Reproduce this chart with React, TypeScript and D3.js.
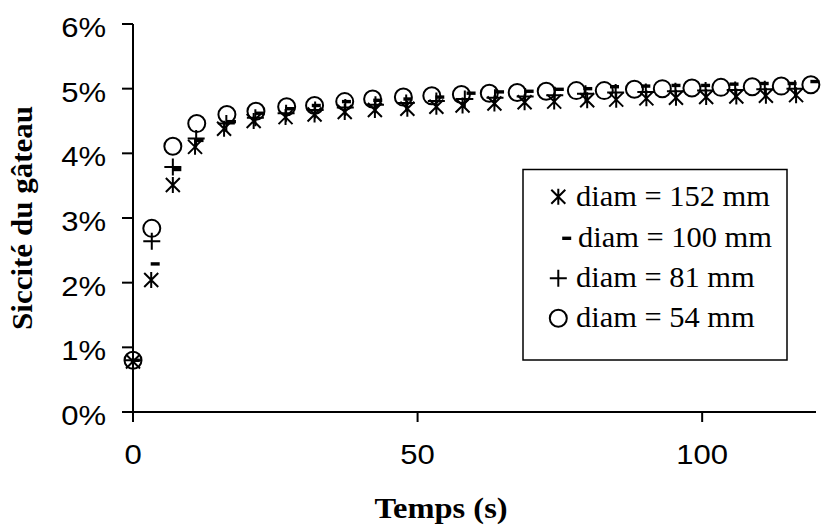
import React, { useEffect, useRef } from "react";
import * as d3 from "d3";

const xTicks = [0, 50, 100];
const yTicks = [0, 0.01, 0.02, 0.03, 0.04, 0.05, 0.06];

const legendLabels = ["diam = 152 mm", "diam = 100 mm", "diam = 81 mm", "diam = 54 mm"];
const markerKinds = ["star", "dash", "plus", "circle"];

const t152 = [0, 3.2, 7.0, 10.9, 16.0, 21.2, 26.8, 31.9, 37.2, 42.5, 48.2, 53.3, 57.9, 63.5, 68.8, 74.0, 79.8, 84.9, 90.2, 95.4, 100.7, 106.0, 111.2, 116.5];
const v152 = [0.78, 2.04, 3.51, 4.10, 4.38, 4.50, 4.56, 4.60, 4.64, 4.67, 4.69, 4.72, 4.74, 4.77, 4.79, 4.80, 4.82, 4.83, 4.85, 4.86, 4.87, 4.88, 4.89, 4.90];

const t100 = [0.4, 3.9, 7.7, 11.6, 17.3, 22.3, 27.5, 32.2, 37.5, 43.0, 48.3, 53.9, 59.4, 64.4, 69.6, 74.9, 79.9, 84.6, 90.1, 95.4, 100.6, 105.6, 110.9, 115.8, 119.8];
const v100 = [0.80, 2.29, 3.75, 4.20, 4.49, 4.62, 4.69, 4.74, 4.80, 4.82, 4.84, 4.87, 4.93, 4.95, 4.96, 4.99, 5.00, 5.03, 5.04, 5.05, 5.05, 5.07, 5.08, 5.08, 5.11];

const t81 = [0, 3.3, 7.0, 11.1, 16.4, 21.5, 26.9, 32.0, 37.3, 42.6, 48.0, 53.3, 58.3, 63.6, 68.9, 74.1, 79.5, 84.8, 90.1, 95.3, 100.6, 105.8, 111.0, 116.3];
const v81 = [0.80, 2.64, 3.79, 4.23, 4.46, 4.55, 4.62, 4.67, 4.71, 4.75, 4.78, 4.81, 4.84, 4.86, 4.88, 4.90, 4.92, 4.94, 4.95, 4.96, 4.97, 4.98, 4.99, 5.00];

const t54 = [0, 3.3, 7.0, 11.2, 16.5, 21.6, 27.0, 31.9, 37.2, 42.1, 47.5, 52.5, 57.7, 62.6, 67.5, 72.6, 77.9, 82.8, 88.1, 93.0, 98.2, 103.3, 108.8, 113.9, 119.1];
const v54 = [0.80, 2.84, 4.11, 4.46, 4.60, 4.65, 4.72, 4.74, 4.80, 4.84, 4.87, 4.89, 4.91, 4.93, 4.94, 4.96, 4.97, 4.97, 4.99, 5.00, 5.01, 5.02, 5.03, 5.04, 5.06];

const seriesTimes = [t152, t100, t81, t54];
const seriesValues = [v152, v100, v81, v54];

const W = 823;
const H = 527;
const M = { left: 133, right: 816, top: 24, bottom: 412 };
const SANS = "Liberation Sans, Arial, sans-serif";
const SERIF = "Liberation Serif, Times New Roman, serif";

function drawMarker(g: any, kind: string, cx: number, cy: number) {
  if (kind === "star") {
    const a = 7;
    g.append("path")
      .attr("d", `M${cx - a},${cy - a}L${cx + a},${cy + a}M${cx - a},${cy + a}L${cx + a},${cy - a}M${cx},${cy - a - 1}L${cx},${cy + a + 1}`)
      .attr("stroke", "#000").attr("stroke-width", 2).attr("fill", "none");
  } else if (kind === "dash") {
    g.append("path")
      .attr("d", `M${cx - 4.5},${cy}L${cx + 4.5},${cy}`)
      .attr("stroke", "#000").attr("stroke-width", 3.4).attr("fill", "none");
  } else if (kind === "plus") {
    const a = 8.5;
    g.append("path")
      .attr("d", `M${cx - a},${cy}L${cx + a},${cy}M${cx},${cy - a}L${cx},${cy + a}`)
      .attr("stroke", "#000").attr("stroke-width", 2).attr("fill", "none");
  } else {
    g.append("circle").attr("cx", cx).attr("cy", cy).attr("r", 8.5)
      .attr("stroke", "#000").attr("stroke-width", 2).attr("fill", "none");
  }
}

export default function App() {
  const ref = useRef<SVGSVGElement>(null);
  useEffect(() => {
    const svg = d3.select(ref.current);
    svg.selectAll("*").remove();
    const x = d3.scaleLinear().domain([0, 120]).range([M.left, M.right]);
    const y = d3.scaleLinear().domain([0, 0.06]).range([M.bottom, M.top]);

    svg.append("rect").attr("width", W).attr("height", H).attr("fill", "#fff");

    const gm = svg.append("g");
    seriesTimes.forEach((ts, si) => {
      ts.forEach((t, i) => {
        drawMarker(gm, markerKinds[si], x(t), y(seriesValues[si][i] / 100));
      });
    });

    const ga = svg.append("g").attr("stroke", "#000").attr("stroke-width", 2);
    ga.append("line").attr("x1", M.left).attr("x2", M.left).attr("y1", M.top).attr("y2", M.bottom);
    ga.append("line").attr("x1", M.left).attr("x2", M.right).attr("y1", M.bottom).attr("y2", M.bottom);
    yTicks.forEach((v) => {
      ga.append("line").attr("x1", M.left - 11).attr("x2", M.left).attr("y1", y(v)).attr("y2", y(v));
    });
    xTicks.forEach((v) => {
      ga.append("line").attr("x1", x(v)).attr("x2", x(v)).attr("y1", M.bottom).attr("y2", M.bottom + 10);
    });

    const fmt = d3.format(".0%");
    svg.append("g").selectAll("text").data(yTicks).join("text")
      .attr("transform", (d: number) => `translate(106,${y(d) + 13}) scale(1.15,1)`)
      .attr("text-anchor", "end")
      .attr("font-family", SANS)
      .attr("font-size", 27)
      .text((d: number) => fmt(d));

    svg.append("g").selectAll("text").data(xTicks).join("text")
      .attr("transform", (d: number) => `translate(${x(d)},464) scale(1.15,1)`)
      .attr("text-anchor", "middle")
      .attr("font-family", SANS)
      .attr("font-size", 27)
      .text((d: number) => String(d));

    svg.append("text")
      .attr("transform", "translate(441,518) scale(1.12,1)")
      .attr("text-anchor", "middle")
      .attr("font-family", SERIF)
      .attr("font-weight", "bold")
      .attr("font-size", 29)
      .text("Temps (s)");

    svg.append("text")
      .attr("transform", "translate(32,218) rotate(-90) scale(1.07,1)")
      .attr("text-anchor", "middle")
      .attr("font-family", SERIF)
      .attr("font-weight", "bold")
      .attr("font-size", 29)
      .text("Siccité du gâteau");

    const lg = svg.append("g");
    lg.append("rect").attr("x", 523).attr("y", 169.5).attr("width", 264).attr("height", 190.5)
      .attr("fill", "#fff").attr("stroke", "#000").attr("stroke-width", 1.5);
    const rowsY = [196.7, 238.3, 278.3, 318.3];
    legendLabels.forEach((lab, i) => {
      const mx = markerKinds[i] === "dash" ? 566.7 : 558.3;
      drawMarker(lg, markerKinds[i], mx, rowsY[i]);
      lg.append("text")
        .attr("transform", `translate(${i === 1 ? 578 : 576},${rowsY[i] + 9}) scale(1.05,1)`)
        .attr("font-family", SERIF)
        .attr("font-size", 29)
        .text(lab);
    });
  }, []);
  return <svg ref={ref} width={W} height={H} style={{ display: "block", position: "absolute", left: 0, top: 0 }} />;
}
